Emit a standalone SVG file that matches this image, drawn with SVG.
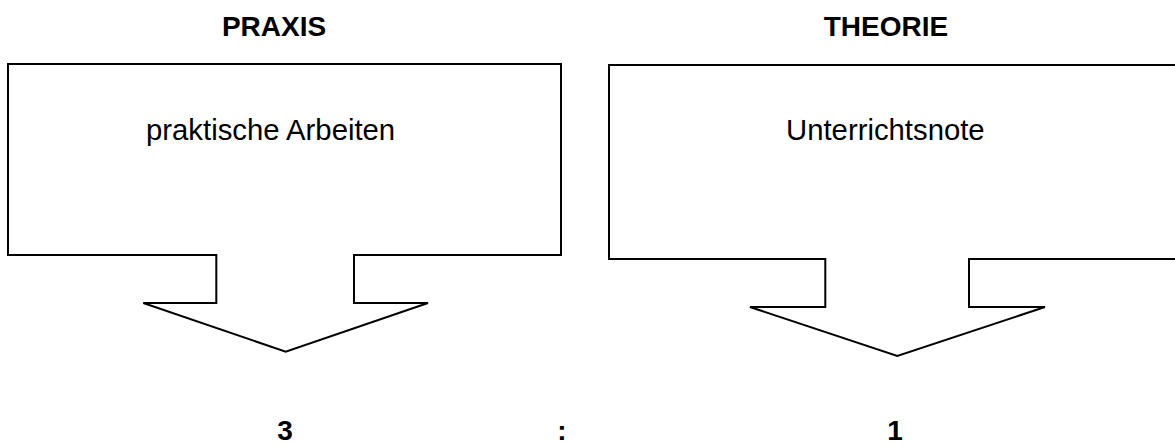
<svg xmlns="http://www.w3.org/2000/svg" width="1175" height="446" viewBox="0 0 1175 446">
<style>
.shape{fill:#ffffff;stroke:#000000;stroke-width:2;stroke-linejoin:miter}
.t{font-family:"Liberation Sans",Arial,sans-serif;font-size:29.3px;fill:#000000}
.b{font-weight:bold;font-size:28px}
</style>
<rect width="1175" height="446" fill="#ffffff"/>
<g id="title-praxis"><text class="t b" x="274" y="36" text-anchor="middle">PRAXIS</text></g>
<g id="title-theorie"><text class="t b" x="886" y="36" text-anchor="middle">THEORIE</text></g>
<g id="node-praxis">
<path class="shape" d="M8,64 H561 V255 H354 V303 H428 L285.7,351.7 L143.3,303 H216.3 V255 H8 Z"/>
<text class="t" x="146" y="140">praktische Arbeiten</text>
</g>
<g id="node-theorie">
<path class="shape" d="M609,65 H1185 V259 H969 V307 H1045 L897.3,356 L750,307 H825.3 V259 H609 Z"/>
<text class="t" x="786" y="140">Unterrichtsnote</text>
</g>
<g id="connectors"></g>
<g id="ratio">
<text class="t b" x="285" y="440" text-anchor="middle">3</text>
<text class="t b" x="562" y="440" text-anchor="middle">:</text>
<text class="t b" x="895" y="440" text-anchor="middle">1</text>
</g>
</svg>
